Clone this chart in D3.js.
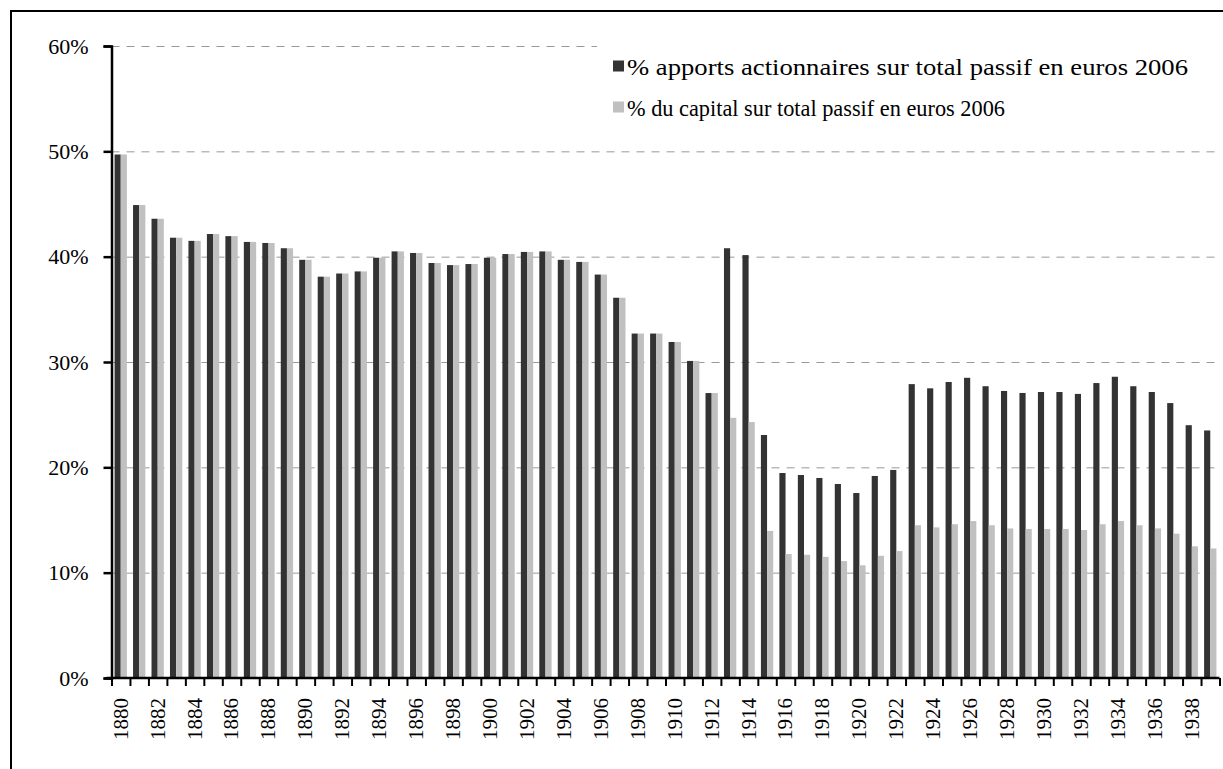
<!DOCTYPE html>
<html>
  <head>
    <meta charset="utf-8" />
    <title>Apports actionnaires et capital / total passif</title>
    <script src="https://d3js.org/d3.v7.min.js"></script>
    <style>
      body {
        margin: 0;
        background-color: white;
      }
    </style>
  </head>
  <body>
    <div id="chart"></div>
    <script>

    // years 1880 .. 1939
    var years = d3.range(1880, 1940);

    // % apports actionnaires sur total passif (dark)
    var apports = [
      49.7, 44.9, 43.6, 41.8, 41.5, 42.15, 41.95, 41.4, 41.3, 40.8,
      39.7, 38.1, 38.4, 38.6, 39.9, 40.5, 40.35, 39.4, 39.2, 39.3,
      39.9, 40.25, 40.45, 40.5, 39.7, 39.5, 38.3, 36.1, 32.7, 32.7,
      31.9, 30.1, 27.05, 40.8, 40.15, 23.07, 19.46, 19.27, 18.99, 18.42,
      17.56, 19.18, 19.75, 27.9, 27.5, 28.1, 28.5, 27.7, 27.25, 27.06,
      27.15, 27.15, 26.97, 28.0, 28.6, 27.7, 27.15, 26.1, 24.0, 23.5
    ];

    // % du capital sur total passif (light)
    var capital = [
      49.7, 44.9, 43.6, 41.8, 41.5, 42.15, 41.95, 41.4, 41.3, 40.8,
      39.7, 38.1, 38.4, 38.6, 39.9, 40.5, 40.35, 39.4, 39.2, 39.3,
      39.9, 40.25, 40.45, 40.5, 39.7, 39.5, 38.3, 36.1, 32.7, 32.7,
      31.9, 30.1, 27.05, 24.7, 24.3, 13.96, 11.77, 11.7, 11.5, 11.1,
      10.7, 11.6, 12.05, 14.5, 14.3, 14.6, 14.9, 14.5, 14.2, 14.15,
      14.15, 14.15, 14.05, 14.6, 14.9, 14.5, 14.2, 13.7, 12.5, 12.3
    ];

    var seriesNames = [
      "% apports actionnaires sur total passif en euros 2006",
      "% du capital sur total passif en euros 2006"
    ];
    var seriesColors = ["#333333", "#c0c0c0"];
    var yTicks = [0, 0.1, 0.2, 0.3, 0.4, 0.5, 0.6];

    var serif = "'Liberation Serif', 'Times New Roman', Times, serif";
    var width = 1223, height = 769;
    var plotLeft = 111.5, plotRight = 1219.5, plotTop = 46, plotBottom = 678;

    var svg = d3.select("#chart").append("svg")
        .attr("width", width)
        .attr("height", height)
        .attr("font-family", serif);

    // outer frame (runs off the right and bottom edge)
    svg.append("rect")
        .attr("x", 11).attr("y", 11)
        .attr("width", width + 20).attr("height", height + 20)
        .attr("fill", "white")
        .attr("stroke", "black")
        .attr("stroke-width", 2);

    // scales
    var x0 = d3.scaleBand()
        .domain(years)
        .range([plotLeft, plotRight])
        .paddingInner(1 / 3)
        .paddingOuter(1 / 6);

    var x1 = d3.scaleBand()
        .domain([0, 1])
        .range([0, x0.bandwidth()]);

    var xEdge = d3.scaleLinear()
        .domain([0, years.length])
        .range([plotLeft, plotRight]);

    var y = d3.scaleLinear()
        .domain([0, 0.6])
        .range([plotBottom, plotTop]);

    // gridlines
    var grid = svg.append("g")
        .attr("transform", "translate(" + plotLeft + ",0)")
        .call(d3.axisLeft(y).tickValues(yTicks.slice(1)).tickSize(-(plotRight - plotLeft)).tickFormat(""));
    grid.select(".domain").remove();
    grid.selectAll("line")
        .attr("stroke", "#999")
        .attr("stroke-width", 1)
        .attr("stroke-dasharray", "8,7");

    // bars
    var rows = years.map(function(yr, i) { return { year: yr, vals: [apports[i], capital[i]] }; });

    var groups = svg.append("g").selectAll("g")
        .data(rows)
        .enter().append("g")
          .attr("transform", function(d) { return "translate(" + x0(d.year) + ",0)"; });

    groups.selectAll("rect")
        .data(function(d) { return d.vals.map(function(v, k) { return { k: k, v: v }; }); })
        .enter().append("rect")
          .attr("x", function(d) { return x1(d.k); })
          .attr("width", x1.bandwidth())
          .attr("y", function(d) { return y(d.v / 100); })
          .attr("height", function(d) { return plotBottom - y(d.v / 100); })
          .attr("fill", function(d) { return seriesColors[d.k]; });

    // legend (white box hides the top gridline behind it)
    var legend = svg.append("g");
    legend.append("rect")
        .attr("x", 597).attr("y", 36)
        .attr("width", 618).attr("height", 100)
        .attr("fill", "white");

    var legendY = [75, 116];
    var legendLen = [561, 378];
    seriesNames.forEach(function(name, i) {
      legend.append("rect")
          .attr("x", 613).attr("y", legendY[i] - 14.5)
          .attr("width", 11).attr("height", 11)
          .attr("fill", seriesColors[i]);
      legend.append("text")
          .attr("x", 627).attr("y", legendY[i])
          .attr("textLength", legendLen[i])
          .attr("lengthAdjust", "spacingAndGlyphs")
          .style("font-family", serif)
          .style("font-size", "23px")
          .text(name);
    });

    // y axis
    var yAxis = svg.append("g")
        .attr("transform", "translate(" + plotLeft + ",0)")
        .call(d3.axisLeft(y).tickValues(yTicks).tickSize(8).tickPadding(15).tickFormat(d3.format(".0%")));
    yAxis.attr("font-family", serif);
    yAxis.select(".domain").attr("stroke-width", 2.5);
    yAxis.selectAll("line").attr("stroke-width", 2.5);
    yAxis.selectAll("text")
        .style("font-family", serif)
        .style("font-size", "22px");

    // x axis: tick marks between categories
    var xTicks = svg.append("g")
        .attr("transform", "translate(0," + plotBottom + ")")
        .call(d3.axisBottom(xEdge).tickValues(d3.range(0, years.length + 1)).tickSize(8).tickFormat(""));
    xTicks.select(".domain").attr("stroke-width", 2.5).attr("d", "M" + (plotLeft - 5) + ",0H" + plotRight);
    xTicks.selectAll("line").attr("stroke-width", 2);

    // x axis labels, every second year
    var xLabels = svg.append("g")
        .attr("transform", "translate(0," + plotBottom + ")")
        .call(d3.axisBottom(x0).tickValues(years.filter(function(d) { return d % 2 === 0; })).tickSize(0));
    xLabels.attr("font-family", serif);
    xLabels.select(".domain").remove();
    xLabels.selectAll("text")
        .style("font-family", serif)
        .style("font-size", "21px")
        .attr("text-anchor", "end")
        .attr("transform", "rotate(-90)")
        .attr("x", -20)
        .attr("y", 0)
        .attr("dy", "0.33em");

    </script>
  </body>
</html>
